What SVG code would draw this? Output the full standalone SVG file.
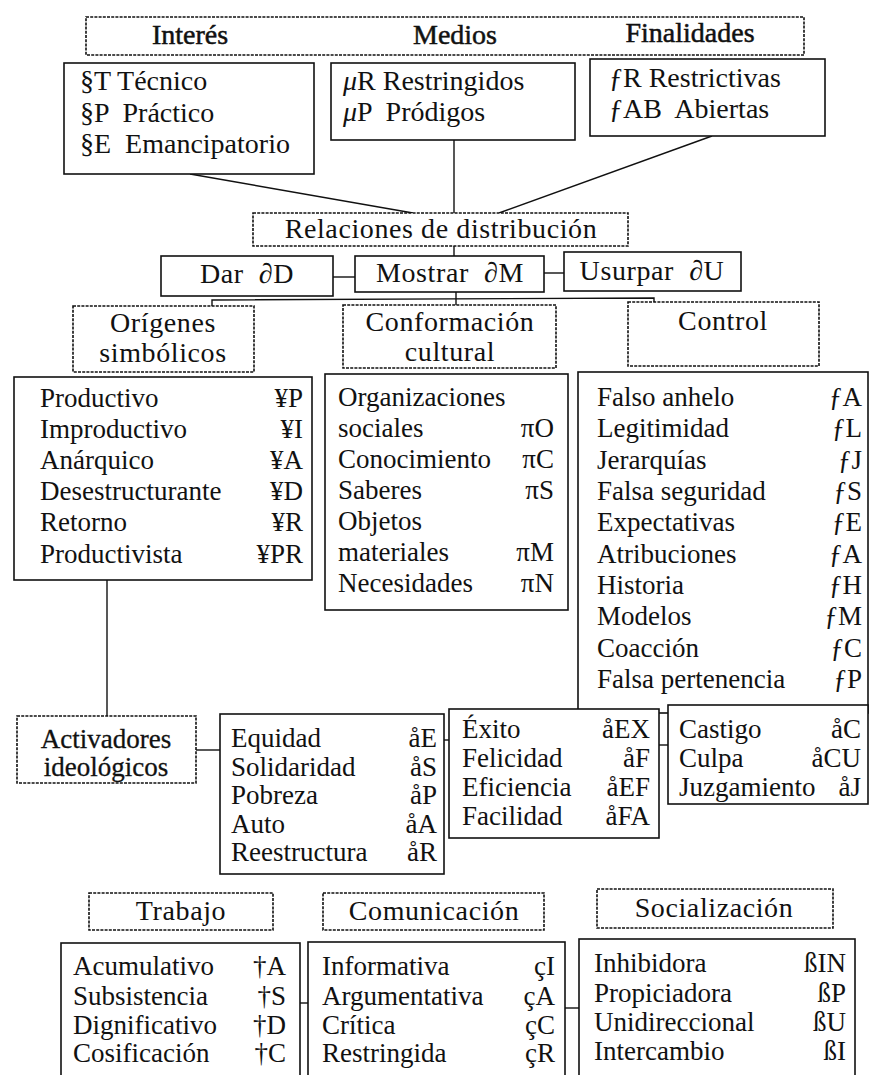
<svg xmlns="http://www.w3.org/2000/svg" width="872" height="1075" viewBox="0 0 872 1075">
<style>
text { font-family: "Liberation Serif", "Times New Roman", serif; font-size: 27px; fill: #111; }
.t { font-size: 28px; }
.h { font-size: 28px; stroke: #111; stroke-width: 0.5; }
.l { font-size: 28px; letter-spacing: 0.6px; }
.a { stroke: #111; stroke-width: 0.3; }
.c { text-anchor: middle; }
.r { text-anchor: end; }
.box { fill: #fff; stroke: #111; stroke-width: 1.6; }
.lbl { fill: #fff; stroke: #111; stroke-width: 1.6; stroke-dasharray: 3 1.2; }
.ln { fill: none; stroke: #111; stroke-width: 1.4; }
</style>
<rect width="872" height="1075" fill="#fff"/>

<g id="connectors">
<line class="ln" x1="190" y1="174" x2="413" y2="213"/>
<line class="ln" x1="454" y1="140" x2="454" y2="213"/>
<line class="ln" x1="712" y1="136" x2="499" y2="213"/>
<line class="ln" x1="454" y1="246" x2="454" y2="256"/>
<line class="ln" x1="333" y1="277" x2="355" y2="277"/>
<line class="ln" x1="544" y1="273" x2="564" y2="273"/>
<polyline class="ln" points="212,306 212,300 654,298 654,302"/>
<line class="ln" x1="456" y1="292" x2="456" y2="305"/>
<line class="ln" x1="107" y1="580" x2="107" y2="716"/>
<line class="ln" x1="196" y1="750" x2="220" y2="750"/>
<line class="ln" x1="444" y1="740" x2="449" y2="740"/>
<line class="ln" x1="659" y1="745" x2="668" y2="745"/>
<line class="ln" x1="300" y1="1003" x2="308" y2="1003"/>
<line class="ln" x1="565" y1="1008" x2="579" y2="1008"/>
</g>

<g id="header">
<rect class="lbl" x="86" y="17" width="718" height="38"/>
<text class="h c" x="190" y="44">Interés</text>
<text class="h c" x="455" y="44">Medios</text>
<text class="h c" x="690" y="42">Finalidades</text>
</g>

<g id="interes">
<rect class="box" x="64" y="63" width="250" height="111"/>
<text class="t" x="80" y="90">§T Técnico</text>
<text class="t" x="80" y="122" xml:space="preserve">§P  Práctico</text>
<text class="t" x="80" y="153" xml:space="preserve">§E  Emancipatorio</text>
</g>

<g id="medios">
<rect class="box" x="331" y="63" width="244" height="77"/>
<text class="t" x="343" y="90"><tspan font-style="italic">μ</tspan>R Restringidos</text>
<text class="t" x="343" y="121" xml:space="preserve"><tspan font-style="italic">μ</tspan>P  Pródigos</text>
</g>

<g id="finalidades">
<rect class="box" x="590" y="59" width="235" height="77"/>
<text class="t" x="609" y="87">ƒR Restrictivas</text>
<text class="t" x="609" y="118" xml:space="preserve">ƒAB  Abiertas</text>
</g>

<g id="relaciones">
<rect class="lbl" x="253" y="213" width="375" height="33"/>
<text class="l c" x="441" y="238">Relaciones de distribución</text>
</g>

<g id="dar">
<rect class="box" x="161" y="256" width="172" height="40"/>
<text class="l c" x="247" y="283" xml:space="preserve">Dar  ∂D</text>
</g>
<g id="mostrar">
<rect class="box" x="355" y="256" width="189" height="36"/>
<text class="l c" x="450" y="282" xml:space="preserve">Mostrar  ∂M</text>
</g>
<g id="usurpar">
<rect class="box" x="564" y="252" width="177" height="39"/>
<text class="l c" x="652" y="280" xml:space="preserve">Usurpar  ∂U</text>
</g>

<g id="origenes">
<rect class="lbl" x="73" y="306" width="181" height="66"/>
<text class="l c" x="163" y="332" letter-spacing="1.2">Orígenes</text>
<text class="l c" x="163" y="362">simbólicos</text>
</g>
<g id="conformacion">
<rect class="lbl" x="343" y="305" width="213" height="63"/>
<text class="l c" x="450" y="331">Conformación</text>
<text class="l c" x="450" y="361">cultural</text>
</g>
<g id="control">
<rect class="lbl" x="628" y="302" width="191" height="64"/>
<text class="l c" x="723" y="330">Control</text>
</g>

<g id="origenes-list">
<rect class="box" x="14" y="377" width="298" height="203"/>
<text x="40" y="407">Productivo</text><text class="r" x="303" y="407">¥P</text>
<text x="40" y="438">Improductivo</text><text class="r" x="303" y="438">¥I</text>
<text x="40" y="469">Anárquico</text><text class="r" x="303" y="469">¥A</text>
<text x="40" y="500">Desestructurante</text><text class="r" x="303" y="500">¥D</text>
<text x="40" y="531">Retorno</text><text class="r" x="303" y="531">¥R</text>
<text x="40" y="563">Productivista</text><text class="r" x="303" y="563">¥PR</text>
</g>

<g id="conformacion-list">
<rect class="box" x="325" y="374" width="243" height="236"/>
<text x="338" y="406">Organizaciones</text>
<text x="338" y="437">sociales</text><text class="r" x="554" y="437">πO</text>
<text x="338" y="468">Conocimiento</text><text class="r" x="554" y="468">πC</text>
<text x="338" y="499">Saberes</text><text class="r" x="554" y="499">πS</text>
<text x="338" y="530">Objetos</text>
<text x="338" y="561">materiales</text><text class="r" x="554" y="561">πM</text>
<text x="338" y="592">Necesidades</text><text class="r" x="554" y="592">πN</text>
</g>

<g id="control-list">
<rect class="box" x="578" y="372" width="290" height="341"/>
<text x="597" y="406">Falso anhelo</text><text class="r" x="862" y="406">ƒA</text>
<text x="597" y="437">Legitimidad</text><text class="r" x="862" y="437">ƒL</text>
<text x="597" y="469">Jerarquías</text><text class="r" x="862" y="469">ƒJ</text>
<text x="597" y="500">Falsa seguridad</text><text class="r" x="862" y="500">ƒS</text>
<text x="597" y="531">Expectativas</text><text class="r" x="862" y="531">ƒE</text>
<text x="597" y="563">Atribuciones</text><text class="r" x="862" y="563">ƒA</text>
<text x="597" y="594">Historia</text><text class="r" x="862" y="594">ƒH</text>
<text x="597" y="625">Modelos</text><text class="r" x="862" y="625">ƒM</text>
<text x="597" y="657">Coacción</text><text class="r" x="862" y="657">ƒC</text>
<text x="597" y="688">Falsa pertenencia</text><text class="r" x="862" y="688">ƒP</text>
</g>

<g id="activadores">
<rect class="lbl" x="17" y="716" width="179" height="67"/>
<text class="c a" x="106" y="748">Activadores</text>
<text class="c a" x="106" y="776">ideológicos</text>
</g>

<g id="equidad-list">
<rect class="box" x="220" y="714" width="224" height="160"/>
<text x="231" y="747">Equidad</text><text class="r" x="437" y="747">åE</text>
<text x="231" y="776">Solidaridad</text><text class="r" x="437" y="776">åS</text>
<text x="231" y="804">Pobreza</text><text class="r" x="437" y="804">åP</text>
<text x="231" y="833">Auto</text><text class="r" x="437" y="833">åA</text>
<text x="231" y="861">Reestructura</text><text class="r" x="437" y="861">åR</text>
</g>

<g id="exito-list">
<rect class="box" x="449" y="709" width="210" height="129"/>
<text x="462" y="738">Éxito</text><text class="r" x="650" y="738">åEX</text>
<text x="462" y="767">Felicidad</text><text class="r" x="650" y="767">åF</text>
<text x="462" y="796">Eficiencia</text><text class="r" x="650" y="796">åEF</text>
<text x="462" y="825">Facilidad</text><text class="r" x="650" y="825">åFA</text>
</g>

<g id="castigo-list">
<rect class="box" x="668" y="705" width="200" height="99"/>
<text x="679" y="738">Castigo</text><text class="r" x="861" y="738">åC</text>
<text x="679" y="767">Culpa</text><text class="r" x="861" y="767">åCU</text>
<text x="679" y="796">Juzgamiento</text><text class="r" x="861" y="796">åJ</text>
</g>

<g id="trabajo">
<rect class="lbl" x="89" y="893" width="184" height="37"/>
<text class="l c" x="181" y="920">Trabajo</text>
</g>
<g id="comunicacion">
<rect class="lbl" x="323" y="893" width="221" height="37"/>
<text class="l c" x="434" y="920">Comunicación</text>
</g>
<g id="socializacion">
<rect class="lbl" x="597" y="889" width="236" height="39"/>
<text class="l c" x="714" y="917">Socialización</text>
</g>

<g id="trabajo-list">
<rect class="box" x="61" y="943" width="239" height="150"/>
<text x="73" y="975">Acumulativo</text><text class="r" x="286" y="975">†A</text>
<text x="73" y="1005">Subsistencia</text><text class="r" x="286" y="1005">†S</text>
<text x="73" y="1034">Dignificativo</text><text class="r" x="286" y="1034">†D</text>
<text x="73" y="1062">Cosificación</text><text class="r" x="286" y="1062">†C</text>
</g>

<g id="comunicacion-list">
<rect class="box" x="308" y="942" width="257" height="150"/>
<text x="322" y="975">Informativa</text><text class="r" x="555" y="975">çI</text>
<text x="322" y="1005">Argumentativa</text><text class="r" x="555" y="1005">çA</text>
<text x="322" y="1034">Crítica</text><text class="r" x="555" y="1034">çC</text>
<text x="322" y="1062">Restringida</text><text class="r" x="555" y="1062">çR</text>
</g>

<g id="socializacion-list">
<rect class="box" x="579" y="939" width="276" height="150"/>
<text x="594" y="972">Inhibidora</text><text class="r" x="846" y="972">ßIN</text>
<text x="594" y="1002">Propiciadora</text><text class="r" x="846" y="1002">ßP</text>
<text x="594" y="1031">Unidireccional</text><text class="r" x="846" y="1031">ßU</text>
<text x="594" y="1060">Intercambio</text><text class="r" x="846" y="1060">ßI</text>
</g>
</svg>
